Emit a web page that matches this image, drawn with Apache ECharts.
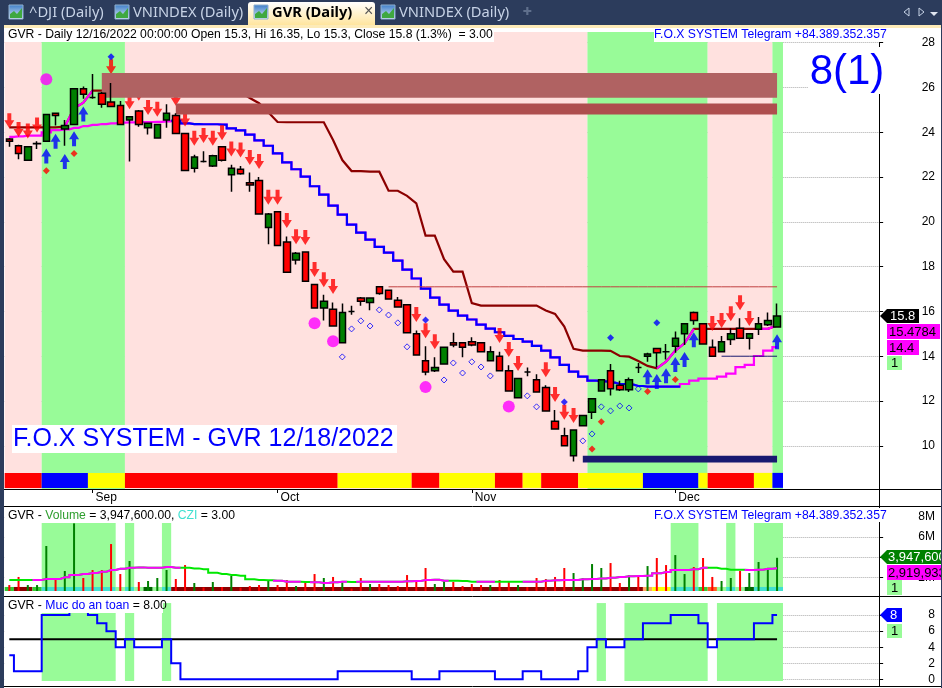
<!DOCTYPE html>
<html><head><meta charset="utf-8">
<style>html,body{margin:0;padding:0;background:#2C3C5C;overflow:hidden}#c{width:942px;height:688px}</style>
<script src="https://cdn.jsdelivr.net/npm/echarts@6/dist/echarts.min.js"></script>
</head><body><div id="c"></div>
<script>
const categories = [
'2022-08-19','2022-08-22','2022-08-23','2022-08-24','2022-08-25','2022-08-26','2022-08-29','2022-08-30','2022-08-31',
'2022-09-05','2022-09-06','2022-09-07','2022-09-08','2022-09-09','2022-09-12','2022-09-13','2022-09-14','2022-09-15','2022-09-16',
'2022-09-19','2022-09-20','2022-09-21','2022-09-22','2022-09-23','2022-09-26','2022-09-27','2022-09-28','2022-09-29','2022-09-30',
'2022-10-03','2022-10-04','2022-10-05','2022-10-06','2022-10-07','2022-10-10','2022-10-11','2022-10-12','2022-10-13','2022-10-14',
'2022-10-17','2022-10-18','2022-10-19','2022-10-20','2022-10-21','2022-10-24','2022-10-25','2022-10-26','2022-10-27','2022-10-28','2022-10-31',
'2022-11-01','2022-11-02','2022-11-03','2022-11-04','2022-11-07','2022-11-08','2022-11-09','2022-11-10','2022-11-11',
'2022-11-14','2022-11-15','2022-11-16','2022-11-17','2022-11-18','2022-11-21','2022-11-22','2022-11-23','2022-11-24','2022-11-25',
'2022-11-28','2022-11-29','2022-11-30',
'2022-12-01','2022-12-02','2022-12-05','2022-12-06','2022-12-07','2022-12-08','2022-12-09','2022-12-12','2022-12-13','2022-12-14','2022-12-15','2022-12-16',
'','','','','','','','','','',''];
const monthTicks = {'2022-09-05':'Sep','2022-10-03':'Oct','2022-11-01':'Nov','2022-12-01':'Dec'};

const opens = [23.7,23.4,22.75,23.49,23.6,24.85,24.15,24.35,25.95,25.55,25.75,25.35,25.2,24.55,24.95,24.2,23.75,24.55,24.75,23.95,22.4,22.7,22.5,23.35,22.1,22.35,21.75,21.85,19.75,20.45,19.1,18.3,18.65,17.2,16.15,16.1,14.6,16,16.6,16.4,17.1,16.95,16.5,16.3,15,13.8,13.35,13.65,14.6,14.6,14.65,14.6,13.8,14,13.35,12.15,13.3,12.95,12.6,11.1,10.45,9.55,10.9,11.5,12.45,13.35,12.7,12.5,13.5,14,14.35,14.2,14.45,15,15.95,15.45,14.4,14.2,14.75,15.25,14.8,15.2,15.4,15.3];
const closes = [23.6,23.05,23.35,23.5,24.8,24.75,24.3,25.95,25.7,25.55,25.25,25.15,24.35,24.7,24.35,24.4,24.35,24.85,23.95,22.3,22.9,22.7,22.95,22.75,22.4,22.15,21.65,20.35,20.35,18.95,17.75,18.6,17.35,16.15,16.45,15.35,15.95,16,16.45,16.6,16.8,16.55,16.2,15.05,14.05,13.3,13.5,14.4,14.5,14.4,14.5,14.2,14.2,13.35,12.45,13,13.3,12.4,11.55,10.75,10,10.7,11.35,12.1,12.95,12.55,12.5,12.95,13.5,14.1,14.15,14.2,14.8,15.45,15.6,14.55,14,14.65,15,14.8,15,15.45,15.6,15.8];
const lows = [23.35,22.8,22.75,23.25,23.6,24.3,23.4,24.35,25.5,25.5,25.1,25.15,24.35,22.7,24.25,23.9,23.75,24.2,23.95,22.3,22.2,22.65,22.45,22.7,21.35,22.1,21.35,20.35,19,18.95,17.75,18.1,17.35,16.15,15.6,15.35,14.6,15.85,16.25,16.05,16.75,16.55,16.2,15.05,14.05,13.15,13.3,13.65,14.4,13.95,14.45,14.2,13.8,13.35,12.45,12.15,13.1,12.4,11.55,10.75,10,9.3,10.9,11.2,12.45,12.25,12.45,12.4,13.25,13.75,13.5,13.85,14.15,14.5,15.4,14.55,14,14.2,14.5,14.8,14.3,14.95,15.35,15.3];
const highs = [23.75,23.45,23.35,23.6,24.8,24.85,24.55,25.95,26.05,26.6,25.8,26.2,25.4,24.7,25,24.4,24.35,25.25,24.85,23.95,23,23.15,23,23.35,22.55,22.5,22.2,22,20.4,20.45,19.35,18.65,18.65,17.2,16.75,16.4,16.35,16.25,16.65,16.6,17.1,16.95,16.65,16.3,15.15,14.45,13.95,14.4,15.05,14.6,14.85,14.6,14.45,14.2,13.6,13,13.5,13.2,12.7,11.6,10.8,10.7,11.35,12.1,12.95,13.65,12.9,13.05,13.7,14.15,14.35,14.55,15.1,15.45,16,15.45,14.75,14.9,15.25,15.7,15,15.75,15.95,16.35];

const upperLine = [24.22,24.22,24.22,24.22,24.22,24.22,24.25,25.07,25.32,25.86,25.86,25.85,25.85,25.85,25.85,25.85,25.85,25.85,25.85,25.85,25.85,25.85,25.85,25.85,25.85,25.8,25.53,25.3,24.9,24.46,24.45,24.45,24.45,24.45,24.45,23.66,22.76,22.27,22.27,22.24,22.24,21.39,21.39,21.16,20.83,19.39,19.39,18.33,17.78,17.78,16.37,16.26,16.26,16.26,16.26,16.26,16.26,16.26,16.04,15.89,15.32,14.33,14.25,14.25,14.25,14.24,14.01,13.98,13.79,13.57,13.46,13.76,14.25,14.58,15.22,15.22,15.22,15.22,15.22,15.22,15.22,15.22,15.22,15.37];
const upperMagentaRuns = [[6,9],[70,74],[81,83]];
const lowerLine = [23.8,23.82,23.85,23.85,24,24.1,24.13,24.2,24.28,24.33,24.37,24.4,24.43,24.44,24.46,24.46,24.47,24.49,24.52,24.4,24.37,24.36,24.36,24.34,24.18,24.09,23.9,23.64,23.4,23.06,22.66,22.35,22.02,21.59,21.22,20.73,20.32,19.88,19.52,19.21,18.88,18.63,18.27,17.87,17.47,17.02,16.62,16.3,16.04,15.81,15.64,15.41,15.23,15.07,14.91,14.77,14.65,14.46,14.25,13.95,13.61,13.31,13.09,12.91,12.88,12.82,12.76,12.73,12.67,12.64,12.64,12.64,12.64,12.76,12.91,13,13,13.09,13.22,13.51,13.61,14.01,14.25,14.41];
const lowerBlueRuns = [[18,72]];

const redArrows = [[0,24.52],[1,24.13],[2,24.06],[3,24.33],[11,26.93],[13,25.37],[14,25.74],[15,25.11],[16,25.03],[18,25.52],[19,24.6],[20,23.73],[21,23.86],[22,23.73],[23,23.98],[24,23.25],[25,23.21],[26,22.88],[27,22.7],[28,21.1],[29,21.1],[30,20.06],[31,19.34],[32,19.3],[33,17.87],[34,17.42],[35,17.11],[44,15.86],[45,15.14],[46,14.65],[53,14.92],[54,14.3],[55,13.67],[58,13.4],[59,12.29],[60,11.5],[61,11.35],[76,15.46],[77,15.59],[78,15.9],[79,16.39],[80,15.68]];
const blueArrows = [[4,22.94],[5,23.6],[6,22.7],[7,23.71],[8,24.82],[69,13.08],[70,12.87],[71,13.13],[72,13.63],[73,13.85],[74,14.74],[83,14.65]];
const magentaDots = [[4,26.37],[33,15.47],[35,14.67],[45,12.62],[54,11.75]];
const redDiamonds = [[4,22.28],[7,23.05],[63,9.86],[64,11.07],[69,12.42],[72,12.96]];
const blueDiamonds = [[11,27.38],[45,15.62],[60,11.96],[65,14.82],[70,15.5]];
const hollowDiamonds = [[36,13.97],[37,15.22],[38,15.58],[39,15.35],[40,16.07],[41,15.84],[42,15.49],[43,14.42],[47,12.94],[48,13.7],[49,13.25],[50,13.75],[51,13.52],[52,13.12],[56,12.23],[57,11.74],[62,10.22],[63,10.53],[64,11.74],[65,11.56],[66,11.78],[67,11.69],[68,12.54]];

// runs: first bar, last bar, colour key
const priceBands = [[0,3,'pink'],[4,12,'green'],[13,62,'pink'],[63,75,'green'],[76,82,'pink'],[83,83,'green']];
const volumeBands = [[4,11,'green'],[13,13,'green'],[17,17,'green'],[72,74,'green'],[78,78,'green'],[81,83,'green']];
const safetyBands = [[4,11,'green'],[13,13,'green'],[17,17,'green'],[64,64,'green'],[67,75,'green'],[77,83,'green']];
const signalStrip = [[0,3,'red'],[4,8,'blue'],[9,12,'yellow'],[13,35,'red'],[36,43,'yellow'],[44,46,'red'],[47,52,'yellow'],[53,55,'red'],[56,57,'yellow'],[58,61,'red'],[62,68,'yellow'],[69,74,'blue'],[75,75,'yellow'],[76,80,'red'],[81,82,'yellow'],[83,83,'blue']];
const cziStrip = [[0,0,'lime'],[1,2,'darkred'],[3,3,'lime'],[4,11,'turq'],[12,12,'pale'],[13,13,'turq'],[14,14,'pale'],[15,15,'darkgreen'],[16,16,'pale'],[17,17,'turq'],[18,68,'darkred'],[69,69,'sandy'],[70,71,'yellow'],[72,74,'turq'],[75,75,'lime'],[76,76,'orange'],[77,77,'pale'],[78,78,'turq'],[79,79,'pale'],[80,80,'darkgreen'],[81,83,'turq']];
// resistance zones: first bar, last bar, top price, bottom price, colour key
const zones = [[10,83,26.65,25.54,'zoneA'],[18,83,25.29,24.8,'zoneB'],[62,83,9.55,9.25,'navy']];
const resistanceLevel = {from:41,to:83,value:17.1};
const supportLevel = {from:77,to:83,value:14.0};

const volumes = [1.25,2.05,1.25,1.25,5.12,1.85,2.64,7.36,1.95,2.74,2.74,5.31,2.34,3.63,1.55,1.65,1.95,2.74,1.85,3.23,1.45,1.0,1.55,1.05,2.15,0.99,1.15,1.25,1.65,1.25,1.75,1.15,1.55,2.34,1.95,2.05,1.55,0.9,1.95,1.35,1.35,1.25,1.15,2.24,1.75,2.94,1.35,1.65,1.55,1.15,1.35,1.25,1.25,1.75,1.65,1.25,1.05,1.95,1.85,2.05,2.94,2.44,1.95,3.33,2.94,3.43,1.45,2.24,2.15,3.13,3.93,3.23,4.22,2.34,3.04,3.93,2.05,1.65,1.95,2.64,2.44,3.53,2.77,3.95];
const volumeMa = [1.75,1.75,1.75,1.75,1.85,1.85,2.01,2.24,2.34,2.44,2.57,2.74,2.87,2.97,3.0,2.97,2.97,3.04,2.97,2.97,2.9,2.81,2.47,2.34,2.24,2.18,1.82,1.75,1.72,1.68,1.58,1.58,1.55,1.52,1.45,1.52,1.58,1.55,1.58,1.58,1.58,1.58,1.58,1.62,1.65,1.75,1.78,1.68,1.68,1.65,1.58,1.58,1.58,1.58,1.58,1.58,1.58,1.58,1.68,1.72,1.75,1.75,1.82,1.85,1.91,1.98,2.05,2.11,2.15,2.18,2.41,2.54,2.74,2.74,2.81,2.97,2.97,2.87,2.77,2.77,2.74,2.77,2.87,2.92];
const volumeMaMagentaRuns = [[3,15],[16,18],[29,31],[33,36],[38,41],[42,47],[51,52],[56,75],[80,83]];
const safetyScore = [3,1,1,1,8,8,8,9,9,8,7,6,4,5,4,4,4,5,2,0,0,0,0,0,0,0,0,0,0,0,0,0,0,0,0,0,1,1,1,1,1,1,1,1,0,0,0,1,1,1,1,1,1,0,0,0,1,1,0,0,0,0,1,4,5,4,4,5,5,7,7,7,8,8,8,7,4,5,5,5,5,7,7,8];
const safetyThreshold = 5;

const priceTicks = [10,12,14,16,18,20,22,24,26,28];
const volumeTicks = [2,4,6,8];
const safetyTicks = [0,2,4,6,8];

const colors = {pink:'#FFE1DF',green:'#98FB98',white:'#FFFFFF',red:'#FF0000',blue:'#0000FF',yellow:'#FFFF00',lime:'#32CD32',darkred:'#8B0000',turq:'#40E0D0',pale:'#98FB98',darkgreen:'#006400',sandy:'#FFA860',orange:'#FF6020',zoneA:'#B06262',zoneB:'#AE4E4E',navy:'#191970'};

const N = categories.length, BARS = opens.length;
const overlay = (vals, runs) => vals.map((v,i)=> runs.some(r=>i>=r[0]&&i<=r[1]) ? v : null);
const level = l => categories.map((_,i)=> i>=l.from&&i<=l.to ? l.value : null);

function bandSeries(name, axis, data, top, bottom, z){
  return {type:'custom', name, xAxisIndex:axis, yAxisIndex:axis, z, silent:true, clip:true, animation:false,
    data: data.map(r=>({value:[r[0],r[1]], key:r[2]})), encode:{x:[0,1]},
    renderItem:(p,api)=>{
      const s=api.value(0), e=api.value(1), bw=api.size([1,0])[0];
      const a=api.coord([s,top]), b=api.coord([e,bottom]);
      const tail = e===BARS-1 ? 1.3 : 0;
      return {type:'rect',shape:{x:a[0]-bw/2,y:a[1],width:b[0]-a[0]+bw+tail,height:b[1]-a[1]},style:{fill:colors[data[p.dataIndex][2]]}};
    }};
}
function zoneSeries(){
  return {type:'custom', name:'zones', z:4, silent:true, animation:false, data:zones.map(r=>[r[0],r[1],r[2],r[3]]), encode:{x:[0,1],y:[2,3]},
    renderItem:(p,api)=>{
      const a=api.coord([api.value(0),api.value(2)]), b=api.coord([api.value(1),api.value(3)]);
      return {type:'rect',shape:{x:a[0],y:a[1],width:b[0]-a[0],height:b[1]-a[1]},style:{fill:colors[zones[p.dataIndex][4]]}};
    }};
}
function line(name,data,color,width,z,axis,step){
  return {type:'line',name,data,xAxisIndex:axis||0,yAxisIndex:axis||0,z,showSymbol:false,symbol:'none',step:step||false,
    lineStyle:{color,width,cap:'butt',join:'miter'},silent:true,animation:false,connectNulls:false};
}
const ARROW_DOWN='path://M3,0 H7 V7 H10 L5,15 L0,7 H3 Z', ARROW_UP='path://M5,0 L10,8 H7 V15 H3 V8 H0 Z';
function marks(name,data,symbol,size,style,z){
  return {type:'scatter',name,data,symbol,symbolSize:size,itemStyle:style,z,silent:true,animation:false};
}
const xAx=(i,show)=>({type:'category',gridIndex:i,data:categories,boundaryGap:true,
  axisLine:{show:false},splitLine:{show:false},
  axisTick:{show:show,length:4,alignWithLabel:true,interval:(idx,v)=>!!monthTicks[v],lineStyle:{color:'#000'}},
  axisLabel:{show:show,interval:(idx,v)=>!!monthTicks[v],formatter:v=>monthTicks[v]||'',align:'left',padding:[0,0,0,3],margin:3,color:'#000',fontFamily:'Liberation Sans',fontSize:12}});
const yAx=(i,min,max,ticks,fmt)=>({type:'value',gridIndex:i,position:'right',offset:-4.43,min,max,
  axisLine:{show:false},
  axisTick:{show:true,length:4,customValues:ticks,lineStyle:{color:'#000'}},
  axisLabel:{show:true,customValues:ticks,formatter:fmt,align:'right',margin:56,color:'#000',fontFamily:'Liberation Sans',fontSize:12},
  splitLine:{show:true,customValues:ticks,lineStyle:{color:'#ABABAB',type:'dotted',width:1}}});

const GL=4.68, GW=9.25*N;
const option={
  animation:false, backgroundColor:'#FFFFFF',
  grid:[{left:GL,top:32,width:GW,height:457},{left:GL,top:507,width:GW,height:84},{left:GL,top:598,width:GW,height:88}],
  xAxis:[xAx(0,true),xAx(1,false),xAx(2,false)],
  yAxis:[yAx(0,8.07,28.48,priceTicks,v=>String(v)),yAx(1,0.66,8.98,volumeTicks,v=>v+'M'),yAx(2,-0.83,10.13,safetyTicks,v=>String(v))],
  series:[
    bandSeries('priceBands',0,priceBands,28.48,8.07,1),
    bandSeries('signalStrip',0,signalStrip,8.79,8.12,2),
    line('upper',upperLine,'#8B0000',2.2,3),
    line('upperUp',overlay(upperLine,upperMagentaRuns),'#FF00FF',2.2,3),
    line('lower',lowerLine,'#FF00FF',2.2,3,0,'middle'),
    line('lowerDown',overlay(lowerLine,lowerBlueRuns),'#0000FF',2.2,3,0,'middle'),
    marks('redArrows',redArrows,ARROW_DOWN,[10,15],{color:'#FF0000'},3.5),
    marks('blueArrows',blueArrows,ARROW_UP,[10,15],{color:'#0000FF'},3.5),
    zoneSeries(),
    line('resistance',level(resistanceLevel),'#C04040',1,4.5),
    line('support',level(supportLevel),'#191970',1,4.5),
    {type:'candlestick',name:'GVR',data:opens.map((o,i)=>[o,closes[i],lows[i],highs[i]]),barWidth:7,z:5,silent:true,animation:false,
      itemStyle:{color:'#008000',color0:'#FF0000',borderColor:'#000',borderColor0:'#000',borderColorDoji:'#000',borderWidth:1.5}},
    marks('magentaDots',magentaDots,'circle',12,{color:'#FF00FF'},6),
    marks('redDiamonds',redDiamonds,'diamond',7,{color:'#FF0000'},6),
    marks('blueDiamonds',blueDiamonds,'diamond',7,{color:'#0000FF'},6),
    marks('hollowDiamonds',hollowDiamonds,'diamond',6,{color:'rgba(0,0,0,0)',borderColor:'#0000FF',borderWidth:1},6),

    bandSeries('volCover',1,[[0,83,'white']],8.98,0.66,1),
    bandSeries('volumeBands',1,volumeBands,7.4,0.66,1.5),
    bandSeries('cziStrip',1,cziStrip,1.06,0.66,2),
    {type:'bar',name:'Volume',xAxisIndex:1,yAxisIndex:1,barWidth:2,z:3,silent:true,animation:false,
      data:volumes.map((v,i)=>({value:v,itemStyle:{color:closes[i]>opens[i]?'#008000':'#FF0000'}}))},
    line('volumeMa',volumeMa,'#00E800',2,4,1,'middle'),
    line('volumeMaUp',overlay(volumeMa,volumeMaMagentaRuns),'#FF00FF',2,4,1,'middle'),

    bandSeries('safeCover',2,[[0,83,'white']],10.13,-0.83,1),
    bandSeries('safetyBands',2,safetyBands,9.5,-0.21,1.5),
    line('threshold',categories.map((_,i)=>i<BARS?safetyThreshold:null),'#000',2,3,2),
    line('safety',safetyScore,'#0000FF',2,4,2,'middle')
  ],
  graphic:{elements:[]}
};

// window chrome and text
const G=option.graphic.elements;
const rect=(x,y,w,h,fill,z,r)=>G.push({type:'rect',silent:true,z:z||100,shape:{x,y,width:w,height:h,r:r||0},style:{fill}});
const hline=(x1,y1,x2,y2,c,w)=>G.push({type:'line',silent:true,z:101,shape:{x1,y1,x2,y2},style:{stroke:c||'#000',lineWidth:w||1}});
const text=(t,x,y,fill,font,align,extra)=>G.push({type:'text',silent:true,z:105,style:Object.assign({text:t,x,y,fill,font,textAlign:align||'left',textVerticalAlign:'middle'},extra||{})});
const F='12.2px "Liberation Sans"';

rect(0,0,942,25,'#2C3C5C',99); rect(0,25,4,663,'#2C3C5C',110); rect(941,25,1,663,'#2C3C5C',110);
rect(4,25,937,3,'#FDEBB8',99);
G.push({type:'rect',silent:true,z:99,shape:{x:248,y:2,width:127,height:23,r:[3,3,0,0]},style:{fill:new echarts.graphic.LinearGradient(0,0,0,1,[{offset:0,color:'#FFFFFF'},{offset:1,color:'#FFE59E'}])}});
function tabIcon(x){
  G.push({type:'rect',silent:true,z:100,shape:{x,y:5,width:14,height:14},style:{fill:new echarts.graphic.LinearGradient(0,0,0,1,[{offset:0,color:'#3A7CC8'},{offset:1,color:'#E6F0FA'}]),stroke:'#8FB0D0',lineWidth:1}});
  G.push({type:'polygon',silent:true,z:101,shape:{points:[[x+1,18],[x+1,14],[x+5,11],[x+8,14],[x+13,8],[x+13,18]]},style:{fill:'#3FA83F'}});
}
[9,115,254,381].forEach(tabIcon);
const TF='14.7px "Noto Sans"', TC='#C7D3E6';
text('^DJI (Daily)',29,13,TC,TF); text('VNINDEX (Daily)',133,13,TC,TF); text('GVR (Daily)',272,13,'#000','bold 14.7px "Noto Sans"');
text('\u00D7',364,12,'#555','16px "Liberation Sans"'); text('VNINDEX (Daily)',399,13,TC,TF); text('\u271A',527,12,'#5F6F8C','11px "DejaVu Sans"','center');
G.push({type:'polygon',silent:true,z:101,shape:{points:[[909,8],[904,12],[909,16]]},style:{stroke:'#C7D3E6',fill:'none'}});
G.push({type:'polygon',silent:true,z:101,shape:{points:[[919,8],[924,12],[919,16]]},style:{stroke:'#C7D3E6',fill:'none'}});
G.push({type:'polygon',silent:true,z:101,shape:{points:[[930,12],[938,12],[934,16]]},style:{fill:'#E0E6F0'}});

// pane separators and right axis line
[[489.5],[506.5],[596.5],[686.5]].forEach(a=>hline(4,a[0],941,a[0]));
hline(879.5,28,879.5,686);

// title boxes
rect(5,28,489,14,'#FFFFFF',102); rect(654,28,231,14,'#FFFFFF',102); rect(808,47,77,47,'#FFFFFF',102); rect(12,425,385,28,'#FFFFFF',102);
rect(7,507,225,16,'#FFFFFF',102); rect(654,508,231,14,'#FFFFFF',102); rect(7,600,156,13,'#FFFFFF',102);
text('GVR - Daily 12/16/2022 00:00:00 Open 15.3, Hi 16.35, Lo 15.3, Close 15.8 (1.3%)  = 3.00',8,35,'#000',F);
const FOX='F.O.X SYSTEM Telegram +84.389.352.357';
text(FOX,654,35,'#0000FF',F); text(FOX,654,516,'#0000FF',F);
text('8(1)',847,72,'#0000FF','42px "Liberation Sans"','center');
text('F.O.X SYSTEM - GVR 12/18/2022',13,439,'#0000FF','25px "Liberation Sans"');
G.push({type:'text',silent:true,z:105,style:{x:8,y:516,font:F,textVerticalAlign:'middle',fill:'#000',text:'{k|GVR - }{g|Volume}{k| = 3,947,600.00, }{c|CZI}{k| = 3.00}',rich:{k:{fill:'#000',font:F},g:{fill:'#2E9E2E',font:F},c:{fill:'#40E0D0',font:F}}}});
G.push({type:'text',silent:true,z:105,style:{x:8,y:606,font:F,textVerticalAlign:'middle',fill:'#000',text:'{k|GVR - }{b|Muc do an toan}{k| = 8.00}',rich:{k:{fill:'#000',font:F},b:{fill:'#0000FF',font:F}}}});

// value tags
function flag(x,y,w,h,fill){G.push({type:'polygon',silent:true,z:103,shape:{points:[[x,y+h/2],[x+7,y],[x+w,y],[x+w,y+h],[x+7,y+h]]},style:{fill}});}
const TAGF='13px "Liberation Sans"';
flag(880,309,39,14,'#000'); text('15.8',890,316.5,'#FFF',TAGF);
rect(887,324,53,15,'#FF00FF',103); text('15.4784',889,332,'#000',TAGF);
rect(887,340,32,15,'#FF00FF',103); text('14.4',889,348,'#000',TAGF);
rect(887,356,15,14,'#98FB98',103); text('1',891,363.5,'#000',TAGF);
flag(880,550,62,14,'#008000'); text('3,947,600',888,557.5,'#FFF',TAGF);
rect(887,565,55,15,'#FF00FF',103); text('2,919,933',888,573,'#000',TAGF);
rect(887,580,15,15,'#98FB98',103); text('1',891,588,'#000',TAGF);
flag(880,608,22,14,'#0000FF'); text('8',890,615.5,'#FFF',TAGF);
rect(887,624,15,14,'#98FB98',103); text('1',891,631.5,'#000',TAGF);

echarts.init(document.getElementById('c'),null,{renderer:'canvas'}).setOption(option);
</script></body></html>
